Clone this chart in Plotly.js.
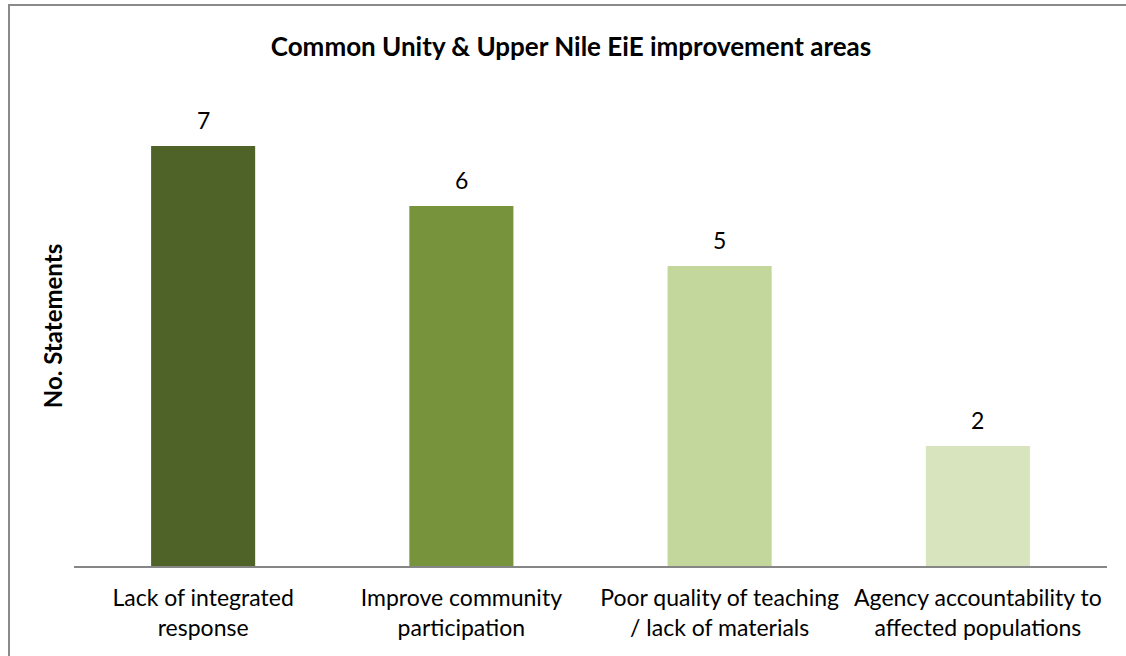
<!DOCTYPE html>
<html>
<head>
<meta charset="utf-8">
<script src="https://cdn.plot.ly/plotly-3.0.1.min.js"></script>
<style>
html,body{margin:0;padding:0;background:#fff;}
#wrap{position:relative;width:1126px;height:656px;overflow:hidden;}
#chart{position:absolute;left:0;top:0;width:1126px;height:656px;}
#frame{position:absolute;left:8px;top:4px;width:1200px;height:700px;border-top:2px solid #8a8a8a;border-left:2px solid #8a8a8a;pointer-events:none;}
</style>
</head>
<body>
<div id="wrap"><div id="chart"></div><div id="frame"></div></div>
<script>
const categories = [
  "Lack of integrated<br>response",
  "Improve community<br>participation",
  "Poor quality of teaching<br>/ lack of materials",
  "Agency accountability to<br>affected populations"
];
const values = [7, 6, 5, 2];
const barColors = ["#4F6228", "#77933C", "#C3D69B", "#D7E4BD"];
const chartTitle = "Common Unity & Upper Nile EiE improvement areas";
const yTitle = "No. Statements";

const font = "Lato, 'Open Sans', sans-serif";

const trace = {
  type: "bar",
  x: categories,
  y: values,
  marker: {color: barColors},
  hoverinfo: "skip"
};

const annotations = categories.map((c, i) => ({
  x: c, y: values[i], xref: "x", yref: "y",
  text: String(values[i]), showarrow: false,
  yanchor: "bottom", yshift: 10,
  font: {family: font, size: 23, color: "#000"}
}));

const layout = {
  width: 1126, height: 656,
  margin: {l: 74, r: 19, t: 86, b: 90},
  paper_bgcolor: "#fff", plot_bgcolor: "#fff",
  showlegend: false,
  bargap: 0.597,
  title: {
    text: "<b>" + chartTitle + "</b>",
    x: 571/1126, xref: "container", xanchor: "center",
    y: 1 - 47/656, yref: "container", yanchor: "middle",
    font: {family: font, size: 26, color: "#000"}
  },
  xaxis: {
    type: "category",
    showline: true, linecolor: "#868686", linewidth: 2,
    showgrid: false, zeroline: false, ticks: "",
    ticklabelstandoff: 10,
    tickfont: {family: font, size: 23, color: "#000"}
  },
  yaxis: {
    range: [0, 8],
    showticklabels: false, showgrid: false, zeroline: false, showline: false, ticks: "",
    title: {text: "<b>" + yTitle + "</b>", standoff: 3, font: {family: font, size: 24, color: "#000"}}
  },
  annotations: annotations
};

Plotly.newPlot("chart", [trace], layout, {displayModeBar: false, staticPlot: true});
</script>
</body>
</html>
